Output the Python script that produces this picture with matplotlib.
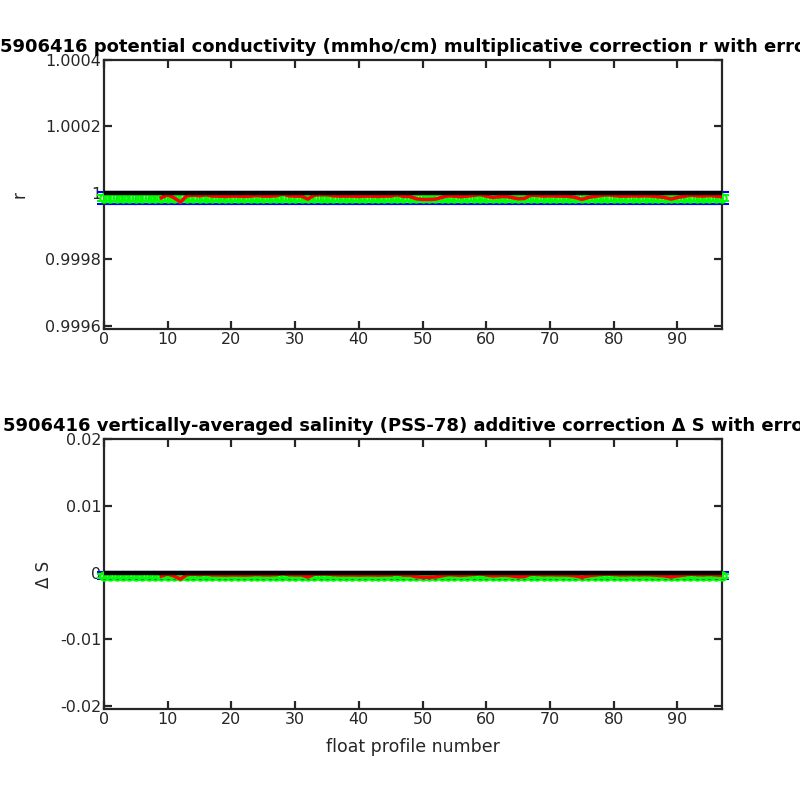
import numpy as np
import matplotlib
matplotlib.use("Agg")
import matplotlib.pyplot as plt

plt.rcParams['font.family'] = ['DejaVu Sans']
plt.rcParams['axes.unicode_minus'] = False

profiles = list(range(0, 98))

# multiplicative correction r (red line shown from profile 9)
fit_start = 9
r_fit = [0.999985, 0.999994, 0.999985, 0.999972, 0.999991, 0.999993, 0.999991, 0.999994,
         0.999990, 0.999990, 0.999989, 0.999990, 0.999990, 0.999989, 0.999990, 0.999992,
         0.999990, 0.999990, 0.999991, 0.999996, 0.999991, 0.999990, 0.999990, 0.999981,
         0.999993, 0.999994, 0.999994, 0.999991, 0.999990, 0.999990, 0.999990, 0.999989,
         0.999990, 0.999990, 0.999989, 0.999990, 0.999990, 0.999994, 0.999989, 0.999989,
         0.999982, 0.999980, 0.999980, 0.999981, 0.999986, 0.999991, 0.999990, 0.999988,
         0.999990, 0.999992, 0.999995, 0.999990, 0.999986, 0.999988, 0.999989, 0.999986,
         0.999982, 0.999983, 0.999993, 0.999992, 0.999990, 0.999991, 0.999990, 0.999990,
         0.999989, 0.999986, 0.999980, 0.999986, 0.999989, 0.999992, 0.999994, 0.999992,
         0.999990, 0.999990, 0.999991, 0.999990, 0.999991, 0.999990, 0.999988, 0.999986,
         0.999981, 0.999986, 0.999989, 0.999993, 0.999991, 0.999990, 0.999992, 0.999990,
         0.999988]

# error-bar centres and 1-sigma errors (uniform band in the picture)
r_center = [0.999985] * 98
r_err = [0.0000094] * 98

# additive salinity correction
ds_fit = [-0.00052, -0.00021, -0.00052, -0.00098, -0.00031, -0.00024, -0.00031, -0.00021,
          -0.00035, -0.00035, -0.00038, -0.00035, -0.00035, -0.00038, -0.00035, -0.00028,
          -0.00035, -0.00035, -0.00031, -0.00014, -0.00031, -0.00035, -0.00035, -0.00066,
          -0.00024, -0.00021, -0.00021, -0.00031, -0.00035, -0.00035, -0.00035, -0.00038,
          -0.00035, -0.00035, -0.00038, -0.00035, -0.00035, -0.00021, -0.00038, -0.00038,
          -0.00063, -0.00070, -0.00070, -0.00066, -0.00049, -0.00031, -0.00035, -0.00042,
          -0.00035, -0.00028, -0.00017, -0.00035, -0.00049, -0.00042, -0.00038, -0.00049,
          -0.00063, -0.00059, -0.00024, -0.00028, -0.00035, -0.00031, -0.00035, -0.00035,
          -0.00038, -0.00049, -0.00070, -0.00049, -0.00038, -0.00028, -0.00021, -0.00028,
          -0.00035, -0.00035, -0.00031, -0.00035, -0.00031, -0.00035, -0.00042, -0.00049,
          -0.00066, -0.00049, -0.00038, -0.00024, -0.00031, -0.00035, -0.00028, -0.00035,
          -0.00042]
ds_center = [-0.00048] * 98
ds_err = [0.00026] * 98

r_ticks = [0.9996, 0.9998, 1.0, 1.0002, 1.0004]
r_ticklabels = ['0.9996', '0.9998', '1', '1.0002', '1.0004']
ds_ticks = [-0.02, -0.01, 0.0, 0.01, 0.02]
ds_ticklabels = ['-0.02', '-0.01', '0', '0.01', '0.02']
x_ticks = [0, 10, 20, 30, 40, 50, 60, 70, 80, 90]

title_top = '5906416 potential conductivity (mmho/cm) multiplicative correction r with errors'
title_bot = '5906416 vertically-averaged salinity (PSS-78) additive correction \u0394 S with errors'

fig = plt.figure(figsize=(8, 8), dpi=100)
ax1 = fig.add_axes([0.13, 0.5888, 0.7725, 0.3362])
ax2 = fig.add_axes([0.13, 0.1138, 0.7725, 0.3375])

axcol = '#262626'

def style(ax):
    for s in ax.spines.values():
        s.set_color(axcol)
        s.set_linewidth(1.6)
    ax.tick_params(direction='in', top=True, right=True, length=6, width=1.6,
                   colors=axcol, labelsize=11.5, labelcolor=axcol, pad=2)
    ax.set_xticks(x_ticks)
    ax.set_xlim(0, 97)

def draw(ax, y, err, fit, ylim, ticks, labels, one):
    ax.errorbar(profiles, y, yerr=[2 * e for e in err], fmt='none', ecolor='blue',
                elinewidth=1.2, capsize=5, capthick=1.5, clip_on=False, zorder=2)
    ax.errorbar(profiles, y, yerr=err, fmt='o', color='#00ff00', mfc='none', ms=6, mew=1.5,
                ecolor='#00ff00', elinewidth=2, capsize=5, capthick=2, clip_on=False, zorder=3)
    ax.plot(profiles[fit_start:], fit, color='red', lw=2.5, zorder=4)
    ax.plot([0, 97], [one, one], color='black', lw=3.2, zorder=5)
    ax.set_ylim(*ylim)
    ax.set_yticks(ticks)
    ax.set_yticklabels(labels)

style(ax1)
style(ax2)
draw(ax1, r_center, r_err, r_fit, (0.99959, 1.0004), r_ticks, r_ticklabels, 1.0)
draw(ax2, ds_center, ds_err, ds_fit, (-0.0204, 0.02), ds_ticks, ds_ticklabels, 0.0)

ax1.set_title(title_top, fontsize=13, fontweight='bold', pad=6)
ax2.set_title(title_bot, fontsize=13, fontweight='bold', pad=6)
ax1.set_ylabel('r', fontsize=12, color=axcol, labelpad=12)
ax2.set_ylabel('\u0394 S', fontsize=12, color=axcol, labelpad=5)
ax2.set_xlabel('float profile number', fontsize=12.5, color=axcol, labelpad=8)

fig.savefig('out.png', dpi=100)
